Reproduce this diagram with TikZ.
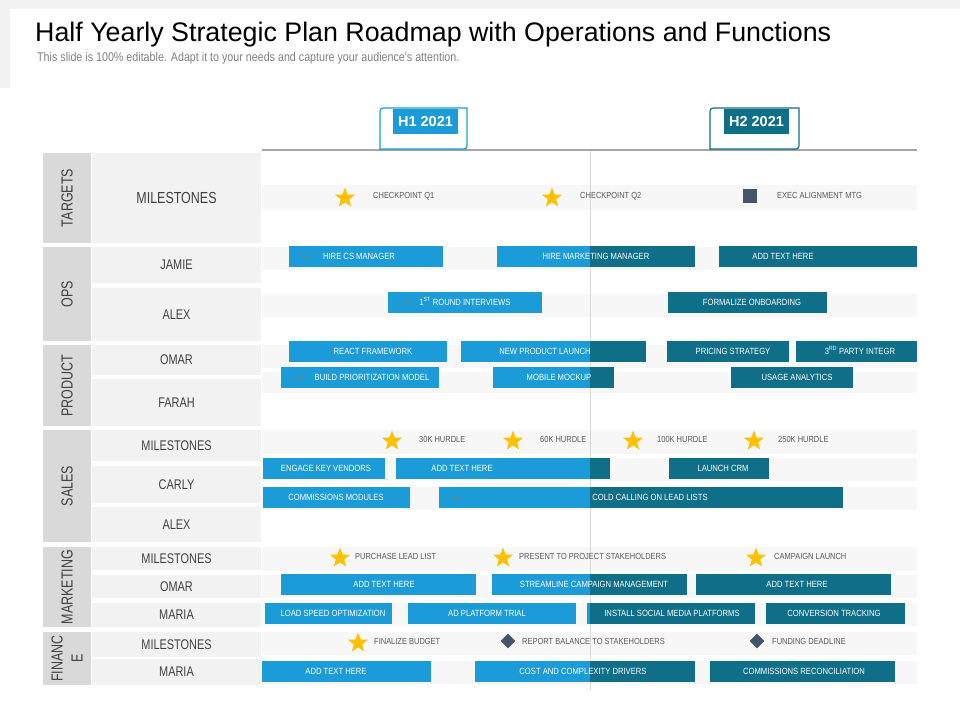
\documentclass[tikz,border=0pt]{standalone}
\usepackage{fontspec}
\setmainfont{Liberation Sans}
\newfontfamily\narrowfont[FakeStretch=0.85]{Liberation Sans}
\newfontfamily\condfont[FakeStretch=0.78]{Liberation Sans}
\usetikzlibrary{shapes.geometric,shadows}
\definecolor{honeblue}{HTML}{1B9BD7}
\definecolor{htwoteal}{HTML}{0F6E88}
\definecolor{catgray}{HTML}{D9D9D9}
\definecolor{namegray}{HTML}{F2F2F2}
\definecolor{stripegray}{HTML}{F7F7F7}
\definecolor{stargold}{HTML}{FFC000}
\definecolor{slate}{HTML}{44546A}
\definecolor{labelgray}{HTML}{404040}
\definecolor{msgray}{HTML}{595959}
\definecolor{subgray}{HTML}{808080}
\definecolor{axisgray}{HTML}{A6A6A6}
\definecolor{midgray}{HTML}{D9D9D9}
\def\barlist{289/443/246/359/HIRE CS MANAGER, 497/695/246/596/HIRE MARKETING MANAGER, 719/917/246/783/ADD TEXT HERE,
  388/542/292/465/1\textsuperscript{ST} ROUND INTERVIEWS, 668/827/292/752/FORMALIZE ONBOARDING,
  289/447/341/373/REACT FRAMEWORK, 461/646/341/545/NEW PRODUCT LAUNCH, 667/789/341/733/PRICING STRATEGY, 796/917/341/860/3\textsuperscript{RD} PARTY INTEGR,
  281/439/367/372/BUILD PRIORITIZATION MODEL, 493/614/367/559/MOBILE MOCKUP, 731/853/367/797/USAGE ANALYTICS,
  263/385/458/326/ENGAGE KEY VENDORS, 396/610/458/462/ADD TEXT HERE, 669/769/458/723/LAUNCH CRM,
  263/410/487/336/COMMISSIONS MODULES, 439/843/487/650/COLD CALLING ON LEAD LISTS,
  281/476/574/384/ADD TEXT HERE, 492/687/574/594/STREAMLINE CAMPAIGN MANAGEMENT, 696/891/574/797/ADD TEXT HERE,
  265/392/603/333/LOAD SPEED OPTIMIZATION, 408/576/603/487/AD PLATFORM TRIAL, 587/755/603/672/INSTALL SOCIAL MEDIA PLATFORMS, 766/905/603/834/CONVERSION TRACKING,
  262/431/661/336/ADD TEXT HERE, 475/695/661/583/COST AND COMPLEXITY DRIVERS, 710/895/661/804/COMMISSIONS RECONCILIATION}
\begin{document}
\begin{tikzpicture}[x=1pt,y=-1pt,
    catlabel/.style={font=\condfont\fontsize{16}{20}\selectfont, text=labelgray, rotate=90, align=center, inner sep=0pt},
    namelabel/.style={font=\condfont\fontsize{14}{16}\selectfont, text=labelgray, inner sep=0pt},
    bartext/.style={font=\narrowfont\fontsize{9}{10}\selectfont, text=white, inner sep=0pt, text height=6.5pt, text depth=0pt},
    mslabel/.style={font=\narrowfont\fontsize{8.8}{10}\selectfont, text=msgray, anchor=west, inner sep=0pt, text height=6.2pt, text depth=0pt},
    msstar/.style={star, star points=5, star point ratio=2.4, minimum size=21pt, inner sep=0pt, fill=stargold},
    msdiamond/.style={diamond, minimum size=15pt, inner sep=0pt, fill=slate},
    mssquare/.style={rectangle, minimum size=14pt, inner sep=0pt, fill=slate},
    tabshape/.style={fill=white, line width=1.2pt, drop shadow={shadow xshift=0pt, shadow yshift=-2pt, opacity=0.15}},
    tablabel/.style={text=white, font=\bfseries\fontsize{14.5}{16}\selectfont, minimum width=65pt, minimum height=25pt, inner sep=0pt},
    chevron/.style={fill=gray, opacity=0.6}]
  \useasboundingbox (0,0) rectangle (960,720);
  \fill[namegray] (0,0) rectangle (960,88);
  \fill[white] (10,9) rectangle (960,88);
  \node[anchor=base west, inner sep=0pt, font=\fontsize{26.8}{30}\selectfont] (title) at (35,41) {Half Yearly Strategic Plan Roadmap with Operations and Functions};
  \node[anchor=base west, inner sep=0pt, font=\narrowfont\fontsize{12.6}{14}\selectfont, text=subgray] (subtitle) at (37,61) {This slide is 100\% editable. Adapt it to your needs and capture your audience's attention.};

  \foreach \ya/\yb/\txt [count=\i] in {153/243/TARGETS, 247/341/OPS, 345/426/PRODUCT, 430/542/SALES, 547/627/MARKETING, 632/685/{FINANC\\E}} {
    \fill[catgray] (43,\ya) rectangle (91,\yb);
    \node[catlabel] (cat\i) at (67,{(\ya+\yb)/2}) {\txt};
  }
  \fill[namegray] (92,153) rectangle (261,243);
  \node[namelabel, font=\condfont\fontsize{16}{18}\selectfont] (name0) at (176.5,198) {MILESTONES};
  \foreach \ya/\yb/\txt [count=\i] in {247/283/JAMIE, 288/341/ALEX, 345/375/OMAR, 379/426/FARAH, 430/461/MILESTONES, 466/503/CARLY, 507/542/ALEX, 547/570/MILESTONES, 575/598/OMAR, 603/627/MARIA, 632/657/MILESTONES, 659/685/MARIA} {
    \fill[namegray] (92,\ya) rectangle (261,\yb);
    \node[namelabel] (name\i) at (176.5,{(\ya+\yb)/2}) {\txt};
  }

  \foreach \ya/\yb in {185/210, 247/270, 294/317, 345/368, 372/393, 430/454, 458/481, 487/510, 547/571, 575/598, 603/626, 632/655, 661/684}
    \fill[stripegray] (262,\ya) rectangle (917,\yb);
  \draw[line width=0.8pt, midgray] (590,151) -- (590,690);
  \draw[line width=1.2pt, axisgray] (262,150) -- (917,150);

  \draw[tabshape, draw=honeblue] (380,149) -- (380,115) .. controls (380,108) .. (387,108) -- (467,108) -- (467,142) .. controls (467,149) .. (460,149) -- cycle;
  \node[tablabel, fill=honeblue] (hone) at (425.5,121.5) {H1 2021};
  \draw[tabshape, draw=htwoteal] (710,149) -- (710,115) .. controls (710,108) .. (717,108) -- (799,108) -- (799,142) .. controls (799,149) .. (792,149) -- cycle;
  \node[tablabel, fill=htwoteal] (htwo) at (756.5,121.5) {H2 2021};

  \foreach \xa/\xb/\ya/\tx/\txt in \barlist
    \fill[honeblue] (\xa,\ya) rectangle (\xb,\ya+21);
  \begin{scope}
    \clip (590,140) rectangle (960,700);
    \foreach \xa/\xb/\ya/\tx/\txt in \barlist
      \fill[htwoteal] (\xa,\ya) rectangle (\xb,\ya+21);
  \end{scope}
  \foreach \cx/\cy in {307/256.5, 406/302.5, 299/377.5, 457/497.5}
    \fill[chevron] (\cx-5,\cy-2) -- (\cx,\cy+1) -- (\cx+5,\cy-2) -- (\cx+5,\cy-0.5) -- (\cx,\cy+2.5) -- (\cx-5,\cy-0.5) -- cycle;
  \foreach \xa/\xb/\ya/\tx/\txt [count=\i] in \barlist
    \node[bartext] (bar\i) at (\tx,\ya+10.5) {\txt};

  \node[msstar] (tq1) at (345,198) {};
  \node[mslabel] (tq1text) at (373,195) {CHECKPOINT Q1};
  \node[msstar] (tq2) at (552,198) {};
  \node[mslabel] (tq2text) at (580,195) {CHECKPOINT Q2};
  \node[mssquare] (texec) at (750,196) {};
  \node[mslabel] (texectext) at (777,195) {EXEC ALIGNMENT MTG};

  \foreach \sx/\lx/\txt [count=\i] in {392/419/30K HURDLE, 513/540/60K HURDLE, 633/657/100K HURDLE, 754/778/250K HURDLE} {
    \node[msstar] (sales\i) at (\sx,441) {};
    \node[mslabel] (sales\i text) at (\lx,439) {\txt};
  }
  \foreach \sx/\lx/\txt [count=\i] in {340/355/PURCHASE LEAD LIST, 503/519/PRESENT TO PROJECT STAKEHOLDERS, 756/774/CAMPAIGN LAUNCH} {
    \node[msstar] (mkt\i) at (\sx,558) {};
    \node[mslabel] (mkt\i text) at (\lx,556) {\txt};
  }
  \node[msstar] (fin1) at (358,643) {};
  \node[mslabel] (fin1text) at (374,641) {FINALIZE BUDGET};
  \node[msdiamond] (fin2) at (508,641) {};
  \node[mslabel] (fin2text) at (522,641) {REPORT BALANCE TO STAKEHOLDERS};
  \node[msdiamond] (fin3) at (757,641) {};
  \node[mslabel] (fin3text) at (772,641) {FUNDING DEADLINE};
\end{tikzpicture}
\end{document}
